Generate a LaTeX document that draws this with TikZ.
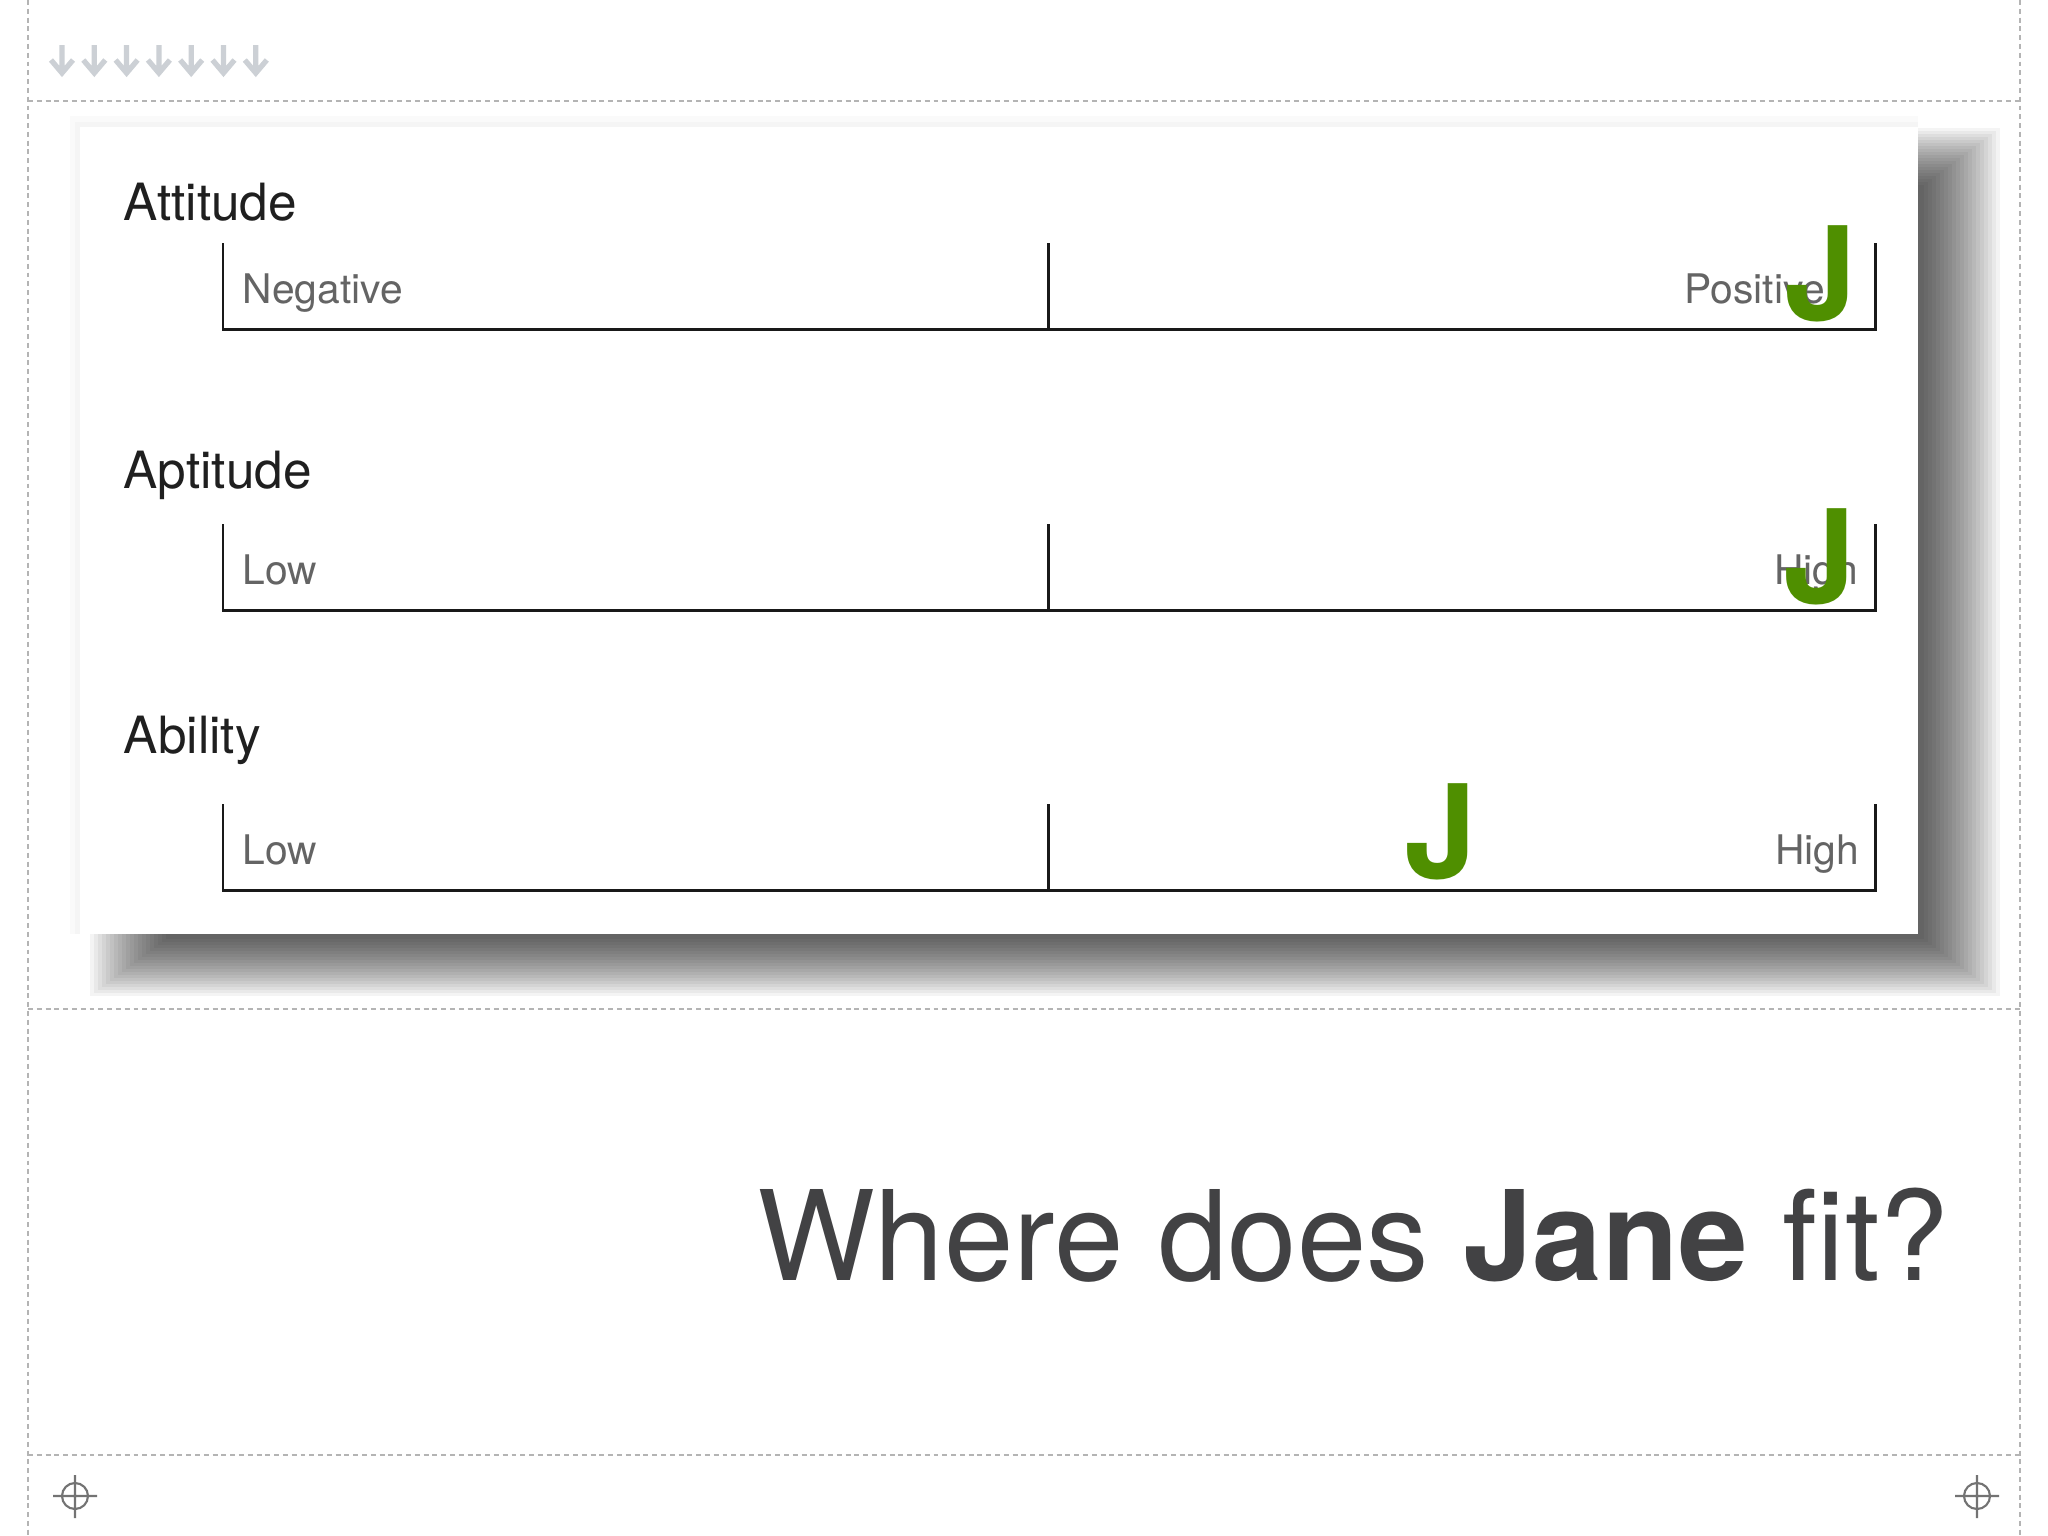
\documentclass[tikz,border=0pt]{standalone}
\usepackage{fontspec}
\setmainfont{TeX Gyre Heros}
\usepackage{tikz}

\definecolor{clover}{RGB}{79,143,0}
\definecolor{guidegray}{RGB}{180,180,180}
\definecolor{arrowgray}{RGB}{204,208,213}
\definecolor{titlegray}{RGB}{66,66,68}
\definecolor{endgray}{RGB}{100,100,100}

\begin{document}
\begin{tikzpicture}[x=0.01cm,y=-0.01cm,
    guide/.style={guidegray,line width=0.45pt,dash pattern=on 1.4pt off 1.1pt},
    crosshair/.style={black!55,line width=0.6pt},
    downarrow/.style={arrowgray,line width=1.5pt},
    scaleline/.style={black!90,line width=0.85pt},
    dimname/.style={anchor=base west,inner sep=0pt,text=black!88,font=\fontsize{14.6}{17}\selectfont},
    endlabel/.style={inner sep=0pt,text=endgray,font=\fontsize{11.6}{14}\selectfont},
    jane/.style={anchor=base,inner sep=0pt,text=clover,font=\fontsize{37}{40}\selectfont\bfseries}]
\useasboundingbox (0,0) rectangle (2048,1536);
\fill[white] (0,0) rectangle (2048,1536);

% slide guides
\draw[guide] (28,0) -- (28,1536);
\draw[guide] (2020,0) -- (2020,1536);
\draw[guide] (28,101) -- (2020,101);
\draw[guide] (28,1009) -- (2020,1009);
\draw[guide] (28,1455) -- (2020,1455);

% build arrows
\foreach \k in {0,...,6}
  \draw[downarrow] ({62+32.3*\k},45) -- ++(0,28) ++(-11,-13) -- ++(11,13) -- ++(11,-13);

% corner marks
\draw[crosshair] (75,1496) circle[radius=0.13cm] (53,1496) -- (97,1496) (75,1475) -- (75,1518);
\draw[crosshair] (1977,1496) circle[radius=0.13cm] (1955,1496) -- (1999,1496) (1977,1475) -- (1977,1518);

% card with its shadow
\fill[black!2] (70,116) rectangle (1918,934);
\fill[black!4] (75,122) rectangle (1918,934);
\foreach \i in {0,...,19}
  \fill[black,opacity=0.045] ({90+4*\i},{128+3*\i}) rectangle ({2000-4*\i},{996-3*\i});
\fill[white] (80,127) rectangle (1918,934);

% attitude
\node[dimname] (attitude) at (123,220) {Attitude};
\draw[scaleline] (223,243) -- (223,329) -- (1875,329) -- (1875,243);
\draw[scaleline] (1048,243) -- (1048,329);
\node[endlabel,anchor=base west] (negative) at (242,303) {Negative};
\node[endlabel,anchor=base east] (positive) at (1826,303) {Positive};
\node[jane] (jatt) at (1821,320) {J};

% aptitude
\node[dimname] (aptitude) at (123,488) {Aptitude};
\draw[scaleline] (223,524) -- (223,610) -- (1875,610) -- (1875,524);
\draw[scaleline] (1048,524) -- (1048,610);
\node[endlabel,anchor=base west] (aptlow) at (242,584) {Low};
\node[endlabel,anchor=base east] (apthigh) at (1859,584) {High};
\node[jane] (japt) at (1820,603) {J};

% ability
\node[dimname] (ability) at (123,753) {Ability};
\draw[scaleline] (223,804) -- (223,890) -- (1875,890) -- (1875,804);
\draw[scaleline] (1048,804) -- (1048,890);
\node[endlabel,anchor=base west] (abllow) at (242,864) {Low};
\node[endlabel,anchor=base east] (ablhigh) at (1860,864) {High};
\node[jane] (jabl) at (1441,878) {J};

\node[anchor=base east,inner sep=0pt,text=titlegray,font=\fontsize{35.5}{40}\selectfont] (question) at (1950,1280) {Where does \textbf{Jane} fit?};

\end{tikzpicture}
\end{document}
